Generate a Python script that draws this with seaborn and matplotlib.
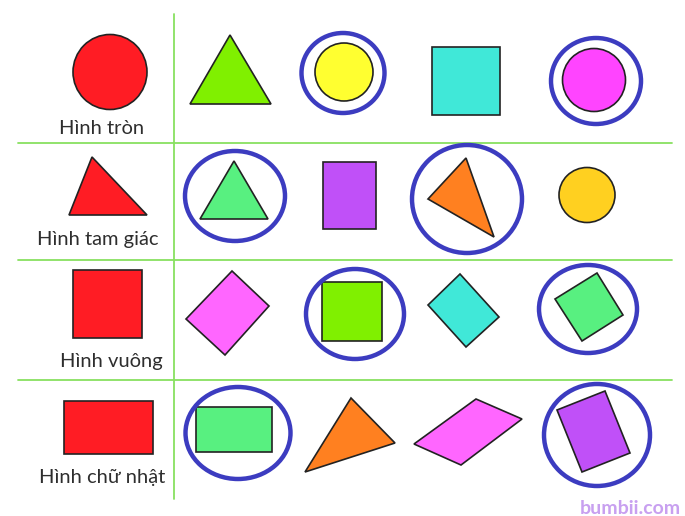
import matplotlib
matplotlib.use('Agg')
import matplotlib.pyplot as plt
import seaborn as sns
from matplotlib.patches import Ellipse, Polygon

# Shapes data (pixel coordinates of the picture)
row_labels = ['Hình tròn', 'Hình tam giác', 'Hình vuông', 'Hình chữ nhật']
label_pos = [(102, 128), (98, 240), (111, 362), (102, 477)]

# ellipses: (cx, cy, width, height, color)
circles = [
    (110, 72, 74, 75, '#ff1c24'),
    (344, 72, 58, 58, '#ffff30'),
    (594, 80, 63, 63, '#ff44ff'),
    (587, 195, 56, 55, '#ffd020'),
]

# polygons: (vertices, color)
polygons = [
    # row 1
    ([(190, 104), (230, 35), (271, 104)], '#80f000'),
    ([(432, 47), (500, 47), (500, 115), (432, 115)], '#40e8d8'),
    # row 2
    ([(69, 215), (92, 157), (147, 215)], '#ff1c24'),
    ([(200, 219), (234, 161), (268, 219)], '#58f080'),
    ([(323, 162), (376, 162), (376, 229), (323, 229)], '#c050f8'),
    ([(428, 199), (466, 158), (494, 237)], '#ff8020'),
    # row 3
    ([(73, 270), (142, 270), (142, 338), (73, 338)], '#ff1c24'),
    ([(186, 319), (232, 271), (269, 306), (225, 355)], '#ff66ff'),
    ([(322, 282), (382, 282), (382, 341), (322, 341)], '#80f000'),
    ([(428, 305), (460, 274), (499, 317), (466, 347)], '#40e8d8'),
    ([(555, 299), (597, 273), (623, 315), (582, 341)], '#58f080'),
    # row 4
    ([(64, 401), (153, 401), (153, 454), (64, 454)], '#ff1c24'),
    ([(196, 407), (272, 407), (272, 452), (196, 452)], '#58f080'),
    ([(305, 472), (351, 398), (395, 443)], '#ff8020'),
    ([(414, 444), (476, 399), (522, 419), (461, 465)], '#ff66ff'),
    ([(557, 410), (605, 391), (630, 453), (582, 472)], '#c050f8'),
]

# blue answer rings: (cx, cy, width, height)
rings = [
    (343, 73, 83, 80),
    (596, 81, 90, 86),
    (235, 196, 100, 90),
    (467, 199, 110, 108),
    (355, 314, 98, 90),
    (588, 309, 98, 88),
    (238, 433, 105, 92),
    (597, 435, 106, 102),
]

row_lines_y = [143, 260, 380]

sns.set_theme(style='white')
plt.rcParams['font.family'] = ['Lato', 'DejaVu Sans']

fig = plt.figure(figsize=(6.85, 5.16), dpi=100)
ax = fig.add_axes([0, 0, 1, 1])
ax.set_xlim(0, 685)
ax.set_ylim(516, 0)
ax.axis('off')

# table grid
for y in row_lines_y:
    ax.plot([18, 672], [y, y], color='#88e060', lw=1.3, zorder=1)
ax.plot([174, 174], [14, 499], color='#88e060', lw=1.3, zorder=1)

for cx, cy, w, h, c in circles:
    ax.add_patch(Ellipse((cx, cy), w, h, facecolor=c, edgecolor='#222222', lw=1.2, zorder=2))

for verts, c in polygons:
    ax.add_patch(Polygon(verts, closed=True, facecolor=c, edgecolor='#222222', lw=1.2, zorder=2))

for cx, cy, w, h in rings:
    ax.add_patch(Ellipse((cx, cy), w, h, facecolor='none', edgecolor='#3c3cc0', lw=3.2, zorder=3))

for text, (x, y) in zip(row_labels, label_pos):
    ax.text(x, y, text, ha='center', va='center', fontsize=14.5, color='#2e2e2e')

ax.text(681, 508, 'bumbii.com', ha='right', va='center', fontsize=14,
        fontweight='bold', color='#c8a0f0')

fig.savefig('out.png', dpi=100)
